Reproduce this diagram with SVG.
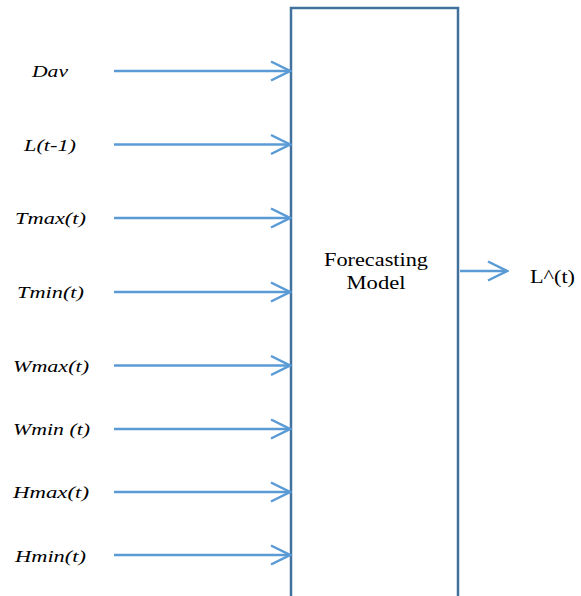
<svg xmlns="http://www.w3.org/2000/svg" width="581" height="596" viewBox="0 0 581 596">
<style>
.lbl{font-family:"Liberation Serif","Times New Roman",serif;font-style:italic;font-size:17.5px;fill:#000}
.txt{font-family:"Liberation Serif","Times New Roman",serif;font-size:18px;fill:#000}
.conn{stroke:#5b9bd5;stroke-width:2.5;fill:none;marker-end:url(#arr)}
.box{stroke:#41719c;stroke-width:2.5;fill:#fff}
</style>
<defs>
<marker id="arr" markerUnits="userSpaceOnUse" viewBox="-22 -12 24 24" markerWidth="24" markerHeight="24" refX="0" refY="0" orient="auto">
<path d="M-19,-9.5 L0,0 L-19,9.5" fill="none" stroke="#5b9bd5" stroke-width="2.5"/>
</marker>
</defs>
<g id="model">
<path class="box" d="M291,600 V8 H458 V600"/>
<text class="txt" x="376" y="266" text-anchor="middle" textLength="104" lengthAdjust="spacingAndGlyphs">Forecasting</text>
<text class="txt" x="376" y="289" text-anchor="middle" textLength="59" lengthAdjust="spacingAndGlyphs">Model</text>
</g>
<g id="in-dav"><text class="lbl" x="32" y="77" textLength="36" lengthAdjust="spacingAndGlyphs">Dav</text></g>
<g id="in-l"><text class="lbl" x="24" y="150.5" textLength="52" lengthAdjust="spacingAndGlyphs">L(t-1)</text></g>
<g id="in-tmax"><text class="lbl" x="15" y="224" textLength="71" lengthAdjust="spacingAndGlyphs">Tmax(t)</text></g>
<g id="in-tmin"><text class="lbl" x="17" y="298" textLength="67" lengthAdjust="spacingAndGlyphs">Tmin(t)</text></g>
<g id="in-wmax"><text class="lbl" x="13" y="372" textLength="76" lengthAdjust="spacingAndGlyphs">Wmax(t)</text></g>
<g id="in-wmin"><text class="lbl" x="13" y="434.5" textLength="77" lengthAdjust="spacingAndGlyphs">Wmin (t)</text></g>
<g id="in-hmax"><text class="lbl" x="13" y="498" textLength="76" lengthAdjust="spacingAndGlyphs">Hmax(t)</text></g>
<g id="in-hmin"><text class="lbl" x="15" y="561.5" textLength="71" lengthAdjust="spacingAndGlyphs">Hmin(t)</text></g>
<g id="out"><text class="txt" x="530" y="283" textLength="45" lengthAdjust="spacingAndGlyphs">L^(t)</text></g>
<g id="connectors">
<line class="conn" x1="114" y1="71" x2="290" y2="71"/>
<line class="conn" x1="114" y1="144.5" x2="290" y2="144.5"/>
<line class="conn" x1="114" y1="218" x2="290" y2="218"/>
<line class="conn" x1="114" y1="292" x2="290" y2="292"/>
<line class="conn" x1="114" y1="365.5" x2="290" y2="365.5"/>
<line class="conn" x1="114" y1="429" x2="290" y2="429"/>
<line class="conn" x1="114" y1="492" x2="290" y2="492"/>
<line class="conn" x1="114" y1="555" x2="290" y2="555"/>
<line class="conn" x1="460" y1="271" x2="507" y2="271"/>
</g>
</svg>
